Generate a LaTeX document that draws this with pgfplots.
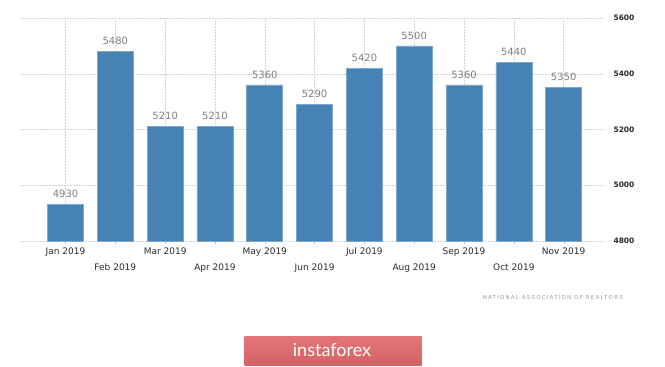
\documentclass[border=0pt]{standalone}
\usepackage{pgfplots}
\pgfplotsset{compat=1.18}
\usepackage{fontspec}
\setmainfont{DejaVu Sans}
\newfontfamily\srcfont[LetterSpace=22]{DejaVu Sans}
\newfontfamily\btnfont{Lato}
\definecolor{barblue}{HTML}{4682B4}
\definecolor{btnred}{HTML}{E46D6F}
\definecolor{valgray}{HTML}{7F7F7F}
\definecolor{tickdark}{HTML}{2A2A2A}
\begin{document}
\begin{tikzpicture}
\begin{axis}[
  at={(20pt,-241pt)}, anchor=south west,
  scale only axis, width=585pt, height=223pt,
  xmin=-0.914, xmax=10.83,
  ymin=4800, ymax=5600,
  ytick={4800,5000,5200,5400,5600},
  yticklabel pos=right,
  yticklabel style={font=\fontsize{7.5}{9}\selectfont\bfseries, text=tickdark, anchor=west, xshift=2pt},
  /pgf/number format/assume math mode=true,
  /pgf/number format/1000 sep={},
  xtick={0,2,4,6,8,10},
  xticklabels={Jan 2019,Mar 2019,May 2019,Jul 2019,Sep 2019,Nov 2019},
  extra x ticks={1,3,5,7,9},
  extra x tick labels={Feb 2019,Apr 2019,Jun 2019,Aug 2019,Oct 2019},
  extra x tick style={xticklabel style={yshift=-16pt}},
  xticklabel style={font=\fontsize{9}{10}\selectfont, text=tickdark},
  axis line style={draw=none},
  xmajorgrids, ymajorgrids,
  grid style={dash pattern=on 0.6pt off 0.9pt, gray!35, line width=0.5pt},
  tick align=outside, xtick pos=bottom,
  major tick length=3pt,
  xtick style={gray!50},
  ytick style={draw=none},
  ybar, bar width=36pt, bar shift=0pt,
  nodes near coords,
  nodes near coords style={font=\fontsize{10}{12}\selectfont, text=valgray, anchor=south, yshift=3pt},
  point meta=explicit symbolic,
]
\addplot[fill=barblue, draw=barblue!70!white, line width=0.6pt] table[meta=label] {
x y label
0 4930 4930
1 5480 5480
2 5210 5210
3 5210 5210
4 5360 5360
5 5290 5290
6 5420 5420
7 5500 5500
8 5360 5360
9 5440 5440
10 5350 5350
};
\end{axis}
\node[anchor=east, text=gray!80, font=\srcfont\fontsize{5.5}{6}\selectfont, inner sep=0pt] at (623pt,-297pt) {NATIONAL ASSOCIATION OF REALTORS};
\shade[top color=btnred!95!white, bottom color=btnred!92!black] (244.5pt,-336pt) rectangle (421.5pt,-365pt);
\node[text=white, font=\btnfont\fontsize{18}{20}\selectfont, inner sep=0pt] at (332pt,-350pt) {instaforex};
\pgfresetboundingbox
\useasboundingbox (0,0) rectangle (665pt,-367pt);
\end{tikzpicture}
\end{document}
